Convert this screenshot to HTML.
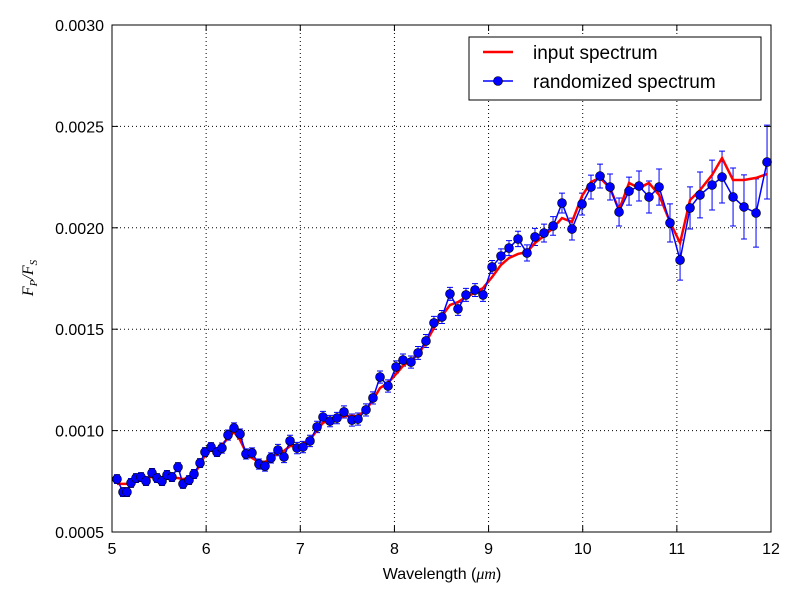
<!DOCTYPE html>
<html><head><meta charset="utf-8"><style>
body{margin:0;background:#fff;}
svg{display:block;font-family:"Liberation Sans",sans-serif;}
</style></head><body>
<svg id="chart" width="800" height="600" xmlns="http://www.w3.org/2000/svg">
<rect width="800" height="600" fill="#fff"/>
<g id="grid"></g>
<g id="series"></g>
<rect x="112" y="25" width="659" height="507" fill="none" stroke="#000" stroke-width="1"/>
<g id="ticks"></g>
<text x="442" y="579" text-anchor="middle" font-size="16">Wavelength (<tspan font-family="Liberation Serif" font-style="italic">μm</tspan>)</text>
<text transform="translate(33,278) rotate(-90)" text-anchor="middle" font-size="16" font-family="Liberation Serif" font-style="italic">F<tspan font-size="11" dy="4">P</tspan><tspan dy="-4">/F</tspan><tspan font-size="11" dy="4">S</tspan></text>
<g>
<rect x="469" y="37" width="292" height="63" fill="#fff" stroke="#000"/>
<line x1="483" y1="52" x2="513" y2="52" stroke="#f00" stroke-width="2.5"/>
<text x="533" y="59" font-size="19">input spectrum</text>
<line x1="483" y1="81" x2="513" y2="81" stroke="#00f" stroke-width="1.5"/>
<circle cx="498" cy="81" r="4.5" fill="#00f" stroke="#000" stroke-width="0.6"/>
<text x="533" y="88" font-size="19">randomized spectrum</text>
</g>
</svg>
<script>
const wavelengths=[5.053,5.117,5.159,5.202,5.255,5.308,5.361,5.425,5.478,5.531,
5.584,5.637,5.701,5.754,5.818,5.871,5.935,5.988,6.052,6.115,
6.168,6.232,6.296,6.360,6.423,6.487,6.561,6.625,6.689,
6.763,6.827,6.891,6.965,7.029,7.103,7.178,7.241,7.316,7.390,
7.464,7.549,7.613,7.698,7.772,7.847,7.932,8.017,8.091,8.176,
8.251,8.335,8.420,8.505,8.590,8.675,8.760,8.856,8.941,9.037,
9.132,9.217,9.313,9.408,9.493,9.589,9.685,9.780,9.886,9.993,
10.088,10.184,10.290,10.386,10.492,10.598,10.704,10.811,10.927,11.034,
11.140,11.246,11.374,11.480,11.597,11.713,11.841,11.958];
// values in units of 1e-4
const randomized=[7.61,6.97,6.97,7.42,7.66,7.71,7.51,7.91,7.66,7.51,
7.81,7.71,8.20,7.37,7.56,7.86,8.40,8.94,9.19,8.94,
9.14,9.78,10.13,9.83,8.85,8.90,8.35,8.25,8.65,
9.04,8.70,9.49,9.14,9.19,9.49,10.18,10.67,10.47,10.62,
10.92,10.52,10.57,11.02,11.61,12.64,12.20,13.14,13.48,13.38,
13.83,14.42,15.31,15.60,16.74,16.00,16.69,16.93,16.69,18.07,
18.61,19.00,19.45,18.76,19.55,19.74,20.09,21.22,19.94,21.17,
22.01,22.55,22.01,20.78,21.81,22.06,21.52,22.01,20.24,18.41,
20.98,21.62,22.11,22.50,21.52,21.03,20.73,23.24];
const inputSpec=[7.37,7.37,7.37,7.47,7.61,7.66,7.66,7.71,7.71,7.66,
7.66,7.66,7.66,7.61,7.66,7.86,8.30,8.80,9.04,9.04,
9.29,9.63,9.93,9.54,8.94,8.65,8.45,8.45,8.65,
8.90,9.00,9.24,9.24,9.34,9.54,10.03,10.38,10.52,10.62,
10.72,10.72,10.72,11.02,11.51,12.10,12.35,12.79,13.19,13.48,
13.73,14.37,15.06,15.65,16.19,16.34,16.59,16.79,17.03,17.57,
18.17,18.51,18.71,18.81,19.25,19.60,19.99,20.48,20.29,21.57,
22.26,22.46,21.96,20.88,22.21,21.96,22.21,21.62,20.29,19.25,
21.37,21.86,22.60,23.44,22.36,22.36,22.46,22.65];
const errors=[0.22,0.22,0.22,0.22,0.22,0.22,0.22,0.22,0.22,0.22,
0.22,0.22,0.22,0.22,0.22,0.22,0.22,0.22,0.22,0.22,
0.25,0.25,0.25,0.25,0.25,0.25,0.25,0.25,0.25,
0.28,0.28,0.28,0.28,0.28,0.28,0.28,0.28,0.28,0.28,
0.30,0.30,0.30,0.30,0.30,0.30,0.30,0.30,0.30,0.30,
0.32,0.32,0.32,0.32,0.32,0.32,0.32,0.32,0.32,0.32,
0.35,0.37,0.38,0.40,0.42,0.44,0.46,0.49,0.54,0.54,
0.59,0.59,0.64,0.69,0.69,0.74,0.79,0.89,0.94,0.99,
1.04,1.13,1.23,1.28,1.43,1.58,1.68,1.82];
const xTicks=[5,6,7,8,9,10,11,12];
const yTicks=[0.0005,0.0010,0.0015,0.0020,0.0025,0.0030];
const yTickLabels=["0.0005","0.0010","0.0015","0.0020","0.0025","0.0030"];

const X0=112,X1=771,Y0=532,Y1=25;
const xs=v=>X0+(v-5)/(12-5)*(X1-X0);
const ys=v=>Y0-(v-0.0005)/(0.0030-0.0005)*(Y0-Y1);
const NS="http://www.w3.org/2000/svg";
function mk(tag,parent,attrs){const e=document.createElementNS(NS,tag);for(const k in attrs)e.setAttribute(k,attrs[k]);parent.appendChild(e);return e;}
const grid=document.getElementById('grid'),ticks=document.getElementById('ticks'),series=document.getElementById('series');
xTicks.forEach((t,i)=>{const x=xs(t);
 if(i>0&&i<xTicks.length-1){const g=mk('line',grid,{x1:x,x2:x,y1:Y1,y2:Y0,stroke:'#000','stroke-dasharray':'1,3','stroke-width':1});
 
 }
 const a=mk('line',ticks,{x1:x,x2:x,y1:Y0,y2:Y0-6,stroke:'#000'});
 
 
 const b=mk('line',ticks,{x1:x,x2:x,y1:Y1,y2:Y1+6,stroke:'#000'});
 
 
 const l=mk('text',ticks,{x:x,y:554,'text-anchor':'middle','font-size':16});l.textContent=String(t);
 
 
});
yTicks.forEach((t,i)=>{const y=ys(t);
 if(i>0&&i<yTicks.length-1){const g=mk('line',grid,{x1:X0,x2:X1,y1:y,y2:y,stroke:'#000','stroke-dasharray':'1,3','stroke-width':1});
 
 }
 const a=mk('line',ticks,{x1:X0,x2:X0+6,y1:y,y2:y,stroke:'#000'});
 
 
 const b=mk('line',ticks,{x1:X1,x2:X1-6,y1:y,y2:y,stroke:'#000'});
 
 
 const l=mk('text',ticks,{x:104,y:y+6,'text-anchor':'end','font-size':16});l.textContent=yTickLabels[i];
 
 
});
// error bars
wavelengths.forEach((w,i)=>{const x=xs(w),v=randomized[i]*1e-4,e=errors[i]*1e-4;
 const g=mk('path',series,{d:`M${x},${ys(v-e)}V${ys(v+e)}M${x-3},${ys(v-e)}h6M${x-3},${ys(v+e)}h6`,stroke:'#00f','stroke-width':1,fill:'none'});
 
 
});
const inp=mk('polyline',series,{points:wavelengths.map((w,i)=>xs(w)+','+ys(inputSpec[i]*1e-4)).join(' '),fill:'none',stroke:'#f00','stroke-width':2.5});


const rnd=mk('polyline',series,{points:wavelengths.map((w,i)=>xs(w)+','+ys(randomized[i]*1e-4)).join(' '),fill:'none',stroke:'#00f','stroke-width':1.5});


wavelengths.forEach((w,i)=>{const c=mk('circle',series,{cx:xs(w),cy:ys(randomized[i]*1e-4),r:4.5,fill:'#00f',stroke:'#000','stroke-width':0.6});
 
 
});
</script>
</body></html>
